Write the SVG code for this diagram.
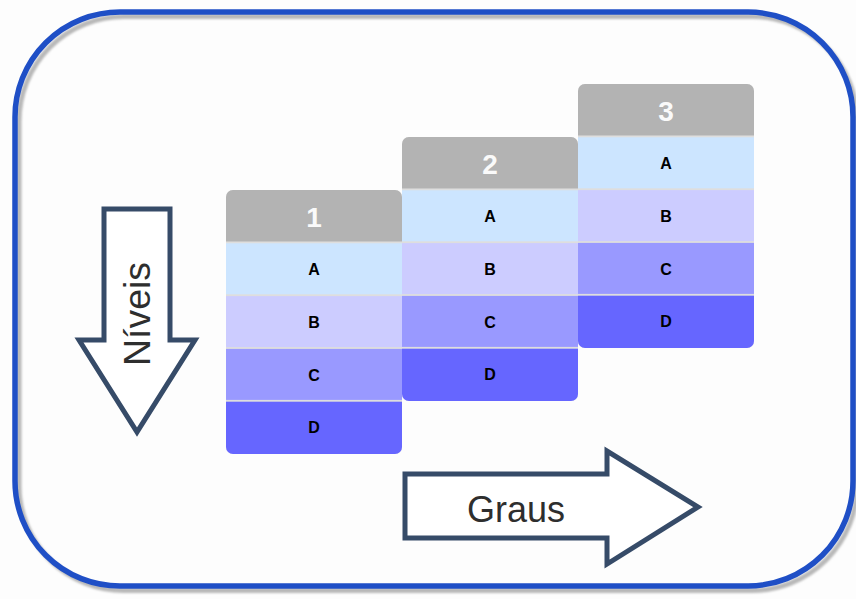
<svg xmlns="http://www.w3.org/2000/svg" width="856" height="599" viewBox="0 0 856 599">
  <style>
    .frame { fill: none; stroke: #1f4fc6; stroke-width: 5.5; }
    .frame-shadow { fill: none; stroke: #b8b8b8; stroke-width: 5; }
    .hdr { fill: #b3b3b3; }
    .ra { fill: #cce5ff; }
    .rb { fill: #ccccff; }
    .rc { fill: #9999ff; }
    .rd { fill: #6666ff; }
    .gap { fill: #dedede; }
    .num { font-family: "Liberation Sans", Arial, sans-serif; font-weight: bold; font-size: 28px; fill: #fafafa; text-anchor: middle; }
    .lvl { font-family: "Liberation Sans", Arial, sans-serif; font-weight: bold; font-size: 16px; fill: #000000; text-anchor: middle; }
    .arrow { fill: #ffffff; stroke: #364b68; stroke-width: 5; stroke-linejoin: miter; }
    .alabel { font-family: "Liberation Sans", Arial, sans-serif; font-size: 37px; fill: #2e2e2e; text-anchor: middle; }
  </style>
  <defs>
    <filter id="soft" x="-5%" y="-5%" width="110%" height="110%">
      <feGaussianBlur stdDeviation="0.8"/>
    </filter>
    <clipPath id="clip1"><rect x="226" y="190" width="176" height="264" rx="7"/></clipPath>
    <clipPath id="clip2"><rect x="402" y="137" width="176" height="264" rx="7"/></clipPath>
    <clipPath id="clip3"><rect x="578" y="84" width="176" height="264" rx="7"/></clipPath>
  </defs>

  <rect x="0" y="0" width="856" height="599" fill="#fdfdfd"/>

  <!-- outer rounded frame with soft shadow -->
  <g id="frame">
    <rect class="frame-shadow" x="19" y="16.5" width="838" height="574" rx="105" filter="url(#soft)"/>
    <rect class="frame" x="15" y="12" width="838" height="574" rx="105"/>
  </g>

  <!-- grade 1 -->
  <g id="grade1" clip-path="url(#clip1)">
    <rect class="gap" x="226" y="190" width="176" height="264"/>
    <rect class="hdr" x="226" y="190" width="176" height="51.5"/>
    <rect class="ra" x="226" y="243.3" width="176" height="51"/>
    <rect class="rb" x="226" y="296.1" width="176" height="51"/>
    <rect class="rc" x="226" y="348.9" width="176" height="51"/>
    <rect class="rd" x="226" y="401.7" width="176" height="52.3"/>
    <text class="num" x="314" y="227">1</text>
    <text class="lvl" x="314" y="275">A</text>
    <text class="lvl" x="314" y="327.5">B</text>
    <text class="lvl" x="314" y="380.5">C</text>
    <text class="lvl" x="314" y="433">D</text>
  </g>

  <!-- grade 2 -->
  <g id="grade2" clip-path="url(#clip2)">
    <rect class="gap" x="402" y="137" width="176" height="264"/>
    <rect class="hdr" x="402" y="137" width="176" height="51.5"/>
    <rect class="ra" x="402" y="190.3" width="176" height="51"/>
    <rect class="rb" x="402" y="243.1" width="176" height="51"/>
    <rect class="rc" x="402" y="295.9" width="176" height="51"/>
    <rect class="rd" x="402" y="348.7" width="176" height="52.3"/>
    <text class="num" x="490" y="174">2</text>
    <text class="lvl" x="490" y="222">A</text>
    <text class="lvl" x="490" y="274.5">B</text>
    <text class="lvl" x="490" y="327.5">C</text>
    <text class="lvl" x="490" y="380">D</text>
  </g>

  <!-- grade 3 -->
  <g id="grade3" clip-path="url(#clip3)">
    <rect class="gap" x="578" y="84" width="176" height="264"/>
    <rect class="hdr" x="578" y="84" width="176" height="51.5"/>
    <rect class="ra" x="578" y="137.3" width="176" height="51"/>
    <rect class="rb" x="578" y="190.1" width="176" height="51"/>
    <rect class="rc" x="578" y="242.9" width="176" height="51"/>
    <rect class="rd" x="578" y="295.7" width="176" height="52.3"/>
    <text class="num" x="666" y="121">3</text>
    <text class="lvl" x="666" y="169">A</text>
    <text class="lvl" x="666" y="221.5">B</text>
    <text class="lvl" x="666" y="274.5">C</text>
    <text class="lvl" x="666" y="327">D</text>
  </g>

  <!-- direction arrows -->
  <g id="connectors">
    <g id="niveis">
      <path class="arrow" d="M104,209 L170,209 L170,340 L195,340 L137,432 L79,340 L104,340 Z"/>
      <text class="alabel" transform="translate(150,314) rotate(-90)" x="0" y="0" textLength="104" lengthAdjust="spacingAndGlyphs">Níveis</text>
    </g>
    <g id="graus">
      <path class="arrow" d="M405,474 L607,474 L607,451 L698,507 L607,564 L607,538 L405,538 Z"/>
      <text class="alabel" x="516" y="522" textLength="98" lengthAdjust="spacingAndGlyphs">Graus</text>
    </g>
  </g>
</svg>
